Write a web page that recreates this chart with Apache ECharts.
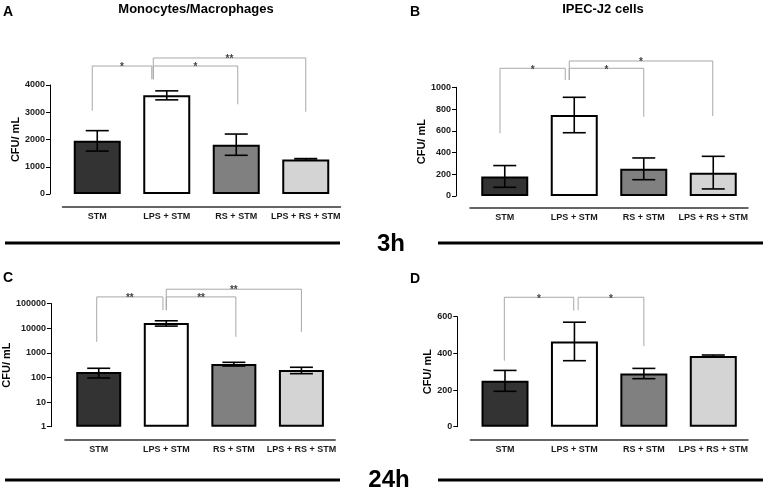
<!DOCTYPE html>
<html>
<head>
<meta charset="utf-8">
<script src="https://cdn.jsdelivr.net/npm/echarts@6/dist/echarts.min.js"></script>
<style>
html,body{margin:0;padding:0;background:#fff;}
#chart{width:767px;height:491px;}
</style>
</head>
<body>
<div id="chart"></div>
<script>
// ---------- data ----------
const categories = ['STM', 'LPS + STM', 'RS + STM', 'LPS + RS + STM'];

const meanA = [1950, 3620, 1810, 1270];
const errA  = [375, 165, 390, 30];
const meanB = [180, 745, 250, 215];
const errB  = [100, 163, 100, 150];
const meanC = [165, 16000, 350, 200];
const errC  = [70, 3900, 60, 58];
const meanD = [250, 465, 290, 385];
const errD  = [57, 105, 28, 6];

const ticksA = [0, 1000, 2000, 3000, 4000];
const ticksB = [0, 200, 400, 600, 800, 1000];
const ticksC = [1, 10, 100, 1000, 10000, 100000];
const ticksD = [0, 200, 400, 600];

// significance brackets: [fromIndex, toIndex, topValue, fromEndValue, toEndValue, label]
const sigA = [[0, 1, 4697, 3057, 4209, '*'], [1, 2, 4697, 4209, 3292, '*'], [1, 3, 4991, 4209, 3020, '**']];
const sigB = [[0, 1, 1175, 577, 1067, '*'], [1, 2, 1175, 1067, 730, '*'], [1, 3, 1242, 1067, 736, '*']];
const sigC = [[0, 1, 185000, 2770, 53500, '**'], [1, 2, 185000, 53500, 4450, '**'], [1, 3, 380000, 53500, 7070, '**']];
const sigD = [[0, 1, 706, 360, 633, '*'], [1, 2, 706, 636, 440, '*']];

const panelTitles = ['Monocytes/Macrophages', 'IPEC-J2 cells'];
const timeLabels = ['3h', '24h'];
const panelLetters = ['A', 'B', 'C', 'D'];

// ---------- layout / style ----------
const FONT = '"Liberation Sans", Arial, Helvetica, sans-serif';
const barColors = ['#333333', '#ffffff', '#808080', '#d4d4d4'];

const panels = [
  {mean: meanA, err: errA, ticks: ticksA, sig: sigA, log: false,
   grid: {left: 62.5, top: 85, width: 278, height: 109}, yOff: 12.5, xOff: 13, nameGap: 29, barW: 47, capW: 23,
   dx: [[-5, -15], [-13.5, 1.5], [-13.5, 0]]},
  {mean: meanB, err: errB, ticks: ticksB, sig: sigB, log: false,
   grid: {left: 470, top: 87.3, width: 278, height: 108.7}, yOff: 14, xOff: 12, nameGap: 26, barW: 47, capW: 23,
   dx: [[-4.75, -9], [-5, 0], [-5, -0.5]]},
  {mean: meanC, err: errC, ticks: ticksC, sig: sigC, log: true,
   grid: {left: 64.2, top: 303.5, width: 271, height: 123.2}, yOff: 14, xOff: 13, nameGap: 37, barW: 45, capW: 23,
   dx: [[-2, -3.3], [0, 2], [0, 0]]},
  {mean: meanD, err: errD, ticks: ticksD, sig: sigD, log: false,
   grid: {left: 470.3, top: 316.7, width: 277.7, height: 110}, yOff: 13, xOff: 13, nameGap: 24, barW: 47, capW: 23,
   dx: [[-0.7, -0.7], [3.7, 0]]}
];

const grids = [], xAxes = [], yAxes = [], series = [];

panels.forEach((p, gi) => {
  grids.push(Object.assign({containLabel: false}, p.grid));
  xAxes.push({
    type: 'category', gridIndex: gi, data: categories, offset: p.xOff,
    axisLine: {onZero: false, lineStyle: {color: '#333', width: 1.5}},
    axisTick: {alignWithLabel: true, inside: true, length: 3, lineStyle: {color: '#333'}},
    axisLabel: {interval: 0, fontSize: 9, fontWeight: 'bold', color: '#1a1a1a', fontFamily: FONT, margin: 5},
    splitLine: {show: false}
  });
  const ticks = p.ticks;
  const y = {
    gridIndex: gi, offset: p.yOff,
    min: ticks[0], max: ticks[ticks.length - 1],
    name: 'CFU/ mL', nameLocation: 'middle', nameGap: p.nameGap,
    nameTextStyle: {fontSize: 11, fontWeight: 'bold', color: '#000', fontFamily: FONT},
    axisLine: {show: true, lineStyle: {color: '#000', width: 1}},
    axisTick: {show: true, length: 4, lineStyle: {color: '#000'}},
    axisLabel: {fontSize: 9, fontWeight: 'bold', color: '#1a1a1a', fontFamily: FONT, margin: 5,
      formatter: v => String(Math.round(v))},
    splitLine: {show: false}
  };
  if (p.log) { y.type = 'log'; y.logBase = 10; y.interval = 1; }
  else { y.type = 'value'; y.interval = ticks[1] - ticks[0]; }
  yAxes.push(y);

  series.push({
    type: 'bar', xAxisIndex: gi, yAxisIndex: gi, barWidth: p.barW,
    data: p.mean.map((v, i) => ({value: v, itemStyle: {color: barColors[i]}})),
    itemStyle: {borderColor: '#000', borderWidth: 2},
    silent: true, animation: false, z: 2
  });

  series.push({
    type: 'custom', xAxisIndex: gi, yAxisIndex: gi, animation: false, silent: true, z: 4,
    data: p.mean.map((m, i) => [i, m, p.err[i]]),
    encode: {x: 0, y: 1},
    renderItem: (params, api) => {
      const i = api.value(0), m = api.value(1), e = api.value(2);
      const top = api.coord([i, m + e]);
      const bot = api.coord([i, m - e]);
      const x = top[0], h = p.capW / 2;
      const st = {stroke: '#000', lineWidth: 1.6};
      return {type: 'group', children: [
        {type: 'line', shape: {x1: x, y1: top[1], x2: x, y2: bot[1]}, style: st},
        {type: 'line', shape: {x1: x - h, y1: top[1], x2: x + h, y2: top[1]}, style: st},
        {type: 'line', shape: {x1: x - h, y1: bot[1], x2: x + h, y2: bot[1]}, style: st}
      ]};
    }
  });

  series.push({
    type: 'custom', xAxisIndex: gi, yAxisIndex: gi, animation: false, silent: true, z: 3, clip: false,
    data: p.sig.map((d, k) => [d[0], d[3], k]),
    encode: {x: 0, y: 1},
    renderItem: (params, api) => {
      const k = params.dataIndex, d = p.sig[k], dx = p.dx[k];
      const x1 = api.coord([d[0], d[2]])[0] + dx[0];
      const x2 = api.coord([d[1], d[2]])[0] + dx[1];
      const yT = api.coord([d[0], d[2]])[1];
      const yF = api.coord([d[0], d[3]])[1];
      const yE = api.coord([d[1], d[4]])[1];
      return {type: 'group', children: [
        {type: 'polyline', shape: {points: [[x1, yF], [x1, yT], [x2, yT], [x2, yE]]},
         style: {stroke: '#a8a8a8', lineWidth: 1, fill: null}},
        {type: 'text', x: (x1 + x2) / 2, y: yT + 1.5,
         style: {text: d[5], fill: '#444', font: 'bold 10px ' + FONT, align: 'center', verticalAlign: 'middle'}}
      ]};
    }
  });
});

const graphic = [
  {type: 'text', left: 3, top: 5, style: {text: panelLetters[0], font: 'bold 14px ' + FONT, fill: '#000'}},
  {type: 'text', left: 410, top: 5, style: {text: panelLetters[1], font: 'bold 14px ' + FONT, fill: '#000'}},
  {type: 'text', left: 3, top: 271, style: {text: panelLetters[2], font: 'bold 14px ' + FONT, fill: '#000'}},
  {type: 'text', left: 410, top: 272, style: {text: panelLetters[3], font: 'bold 14px ' + FONT, fill: '#000'}},
  {type: 'text', x: 196, y: 9, style: {text: panelTitles[0], font: 'bold 13px ' + FONT, fill: '#000', align: 'center', verticalAlign: 'middle'}},
  {type: 'text', x: 603, y: 9, style: {text: panelTitles[1], font: 'bold 13px ' + FONT, fill: '#000', align: 'center', verticalAlign: 'middle'}},
  {type: 'line', shape: {x1: 5, y1: 243, x2: 340, y2: 243}, style: {stroke: '#000', lineWidth: 3}},
  {type: 'line', shape: {x1: 438, y1: 243, x2: 763, y2: 243}, style: {stroke: '#000', lineWidth: 3}},
  {type: 'line', shape: {x1: 5, y1: 480, x2: 340, y2: 480}, style: {stroke: '#000', lineWidth: 3}},
  {type: 'line', shape: {x1: 438, y1: 480, x2: 763, y2: 480}, style: {stroke: '#000', lineWidth: 3}},
  {type: 'text', x: 391, y: 244, style: {text: timeLabels[0], font: 'bold 24px ' + FONT, fill: '#000', align: 'center', verticalAlign: 'middle'}},
  {type: 'text', x: 389, y: 480, style: {text: timeLabels[1], font: 'bold 24px ' + FONT, fill: '#000', align: 'center', verticalAlign: 'middle'}}
];

const chart = echarts.init(document.getElementById('chart'), null, {renderer: 'canvas'});
chart.setOption({
  animation: false,
  backgroundColor: '#fff',
  grid: grids, xAxis: xAxes, yAxis: yAxes, series: series, graphic: graphic
});
</script>
</body>
</html>
